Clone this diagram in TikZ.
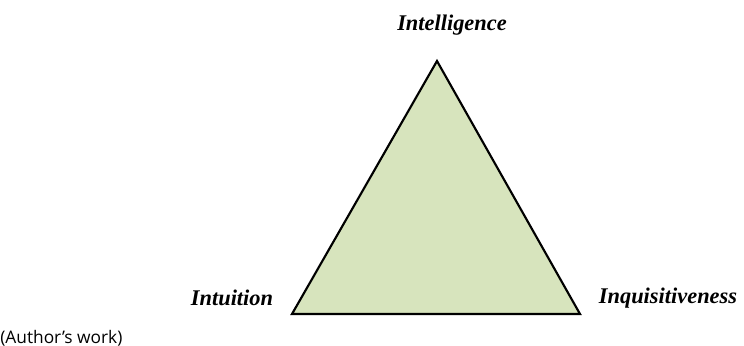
\documentclass[tikz,border=0pt]{standalone}
\usepackage{fontspec}
\setmainfont{Liberation Serif}
\newfontfamily\notefont{Open Sans}
\definecolor{trifill}{HTML}{D7E4BD}
\begin{document}
\begin{tikzpicture}[x=0.75pt,y=-0.75pt,
  lbl/.style={font=\fontsize{16.8pt}{19pt}\selectfont\bfseries\itshape, inner sep=0pt},
  note/.style={font=\notefont\fontsize{13pt}{15pt}\selectfont, inner sep=0pt, anchor=west}]
\useasboundingbox (0,0) rectangle (744,346);
\coordinate (top) at (437,61);
\coordinate (bl) at (292,314);
\coordinate (br) at (580,314);
\draw[fill=trifill, line width=1.6pt, line join=miter] (top) -- (br) -- (bl) -- cycle;
\node[lbl] (intel) at (452,25) {Intelligence};
\node[lbl] (intu) at (232,298) {Intuition};
\node[lbl] (inq) at (668,298) {Inquisitiveness};
\node[note] (src) at (0,338) {(Author’s work)};
\end{tikzpicture}
\end{document}
